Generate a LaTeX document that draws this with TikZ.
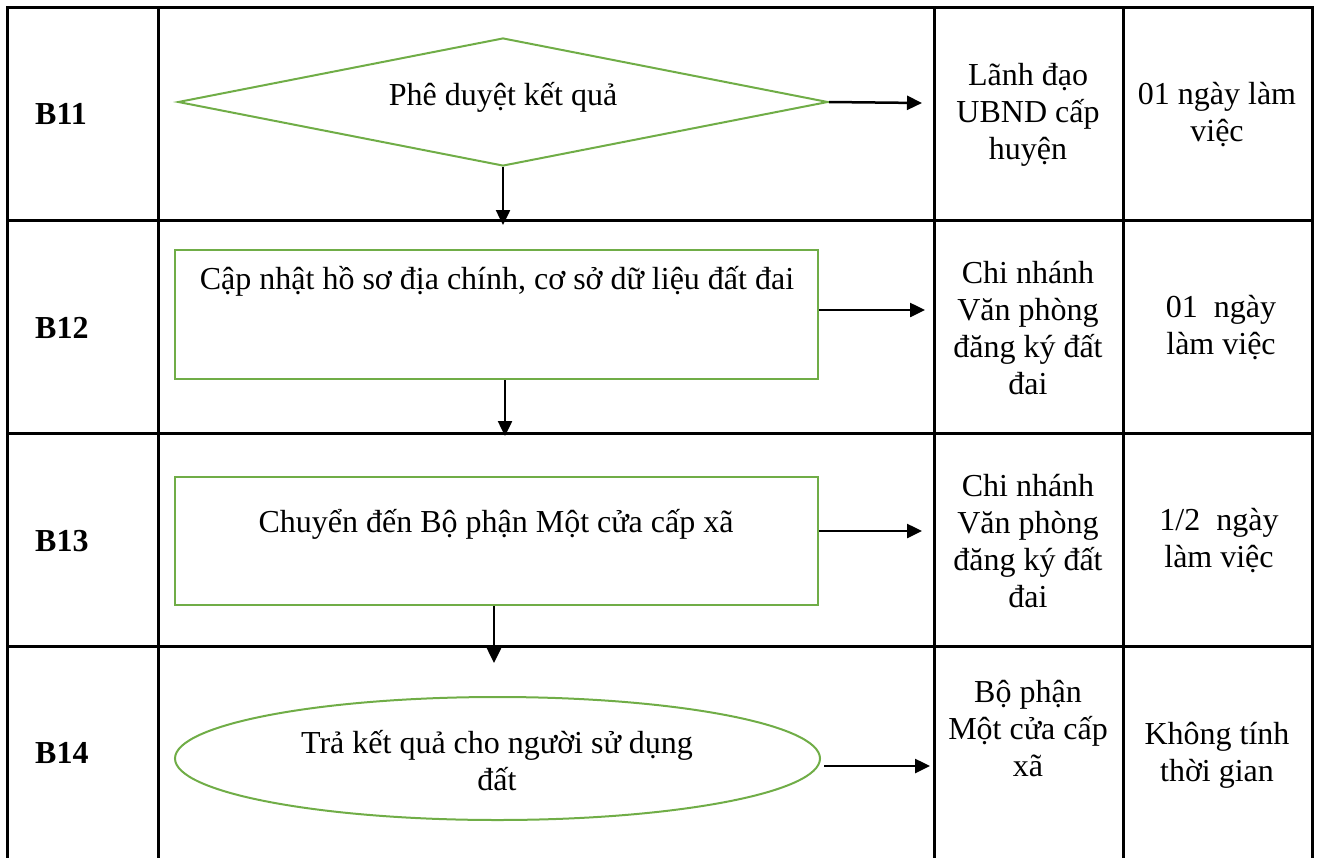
\documentclass[tikz,border=0pt]{standalone}
\usepackage{fontspec}
\setmainfont{Liberation Serif}
\usetikzlibrary{shapes.geometric,arrows.meta}
\definecolor{flowgreen}{RGB}{112,173,71}
\begin{document}
\begin{tikzpicture}[x=1pt,y=-1pt,
  grid/.style={line width=3pt},
  shapebox/.style={draw=flowgreen,line width=2pt,inner sep=0pt},
  conn/.style={line width=2.5pt,-{Triangle[length=15pt,width=14pt]}},
  txt/.style={font=\fontsize{32}{37}\selectfont,align=center,inner sep=0pt},
  lbl/.style={font=\fontsize{32}{37}\selectfont\bfseries,inner sep=0pt,anchor=west}]
\useasboundingbox (0,0) rectangle (1317,857);
% table grid
\draw[grid] (7,858) -- (7,7) -- (1312,7) -- (1312,858);
\foreach \x in {158,934,1123} \draw[grid] (\x,7) -- (\x,858);
\foreach \y in {220,433,646} \draw[grid] (7,\y) -- (1312,\y);
% step labels
\node[lbl] (b11) at (35,114) {B11};
\node[lbl] (b12) at (35,328) {B12};
\node[lbl] (b13) at (35,541) {B13};
\node[lbl] (b14) at (35,753) {B14};
% responsible units
\node[txt] (u11) at (1028,115) {Lãnh đạo\\UBND cấp\\huyện};
\node[txt] (u12) at (1028,328) {Chi nhánh\\Văn phòng\\đăng ký đất\\đai};
\node[txt] (u13) at (1028,541) {Chi nhánh\\Văn phòng\\đăng ký đất\\đai};
\node[txt] (u14) at (1028,729) {Bộ phận\\Một cửa cấp\\xã};
% times
\node[txt] (t11) at (1217,115) {01 ngày làm\\việc};
\node[txt] (t12) at (1221,328) {01\ \ ngày\\làm việc};
\node[txt] (t13) at (1219,541) {1/2\ \ ngày\\làm việc};
\node[txt] (t14) at (1217,755) {Không tính\\thời gian};
% shapes
\node[shapebox,diamond,minimum width=650pt,minimum height=128pt] (d11) at (503,102) {};
\node[txt] (x11) at (503,97) {Phê duyệt kết quả};
\node[shapebox,rectangle,minimum width=643pt,minimum height=129pt] (r12) at (496.5,314.5) {};
\node[txt] (x12) at (497,281) {Cập nhật hồ sơ địa chính, cơ sở dữ liệu đất đai};
\node[shapebox,rectangle,minimum width=643pt,minimum height=128pt] (r13) at (496.5,541) {};
\node[txt] (x13) at (496,524) {Chuyển đến Bộ phận Một cửa cấp xã};
\node[shapebox,ellipse,minimum width=645pt,minimum height=123pt] (e14) at (497.5,758.5) {};
\node[txt] (x14) at (497,761) {Trả kết quả cho người sử dụng\\đất};
% connector ends
\coordinate (h11) at (922,103);
\coordinate (v11) at (503,225);
\coordinate (h12) at (925,310);
\coordinate (v12) at (505,436);
\coordinate (h13) at (922,531);
\coordinate (v13) at (494,663);
\coordinate (h14) at (930,766);
% connectors
\draw[conn] (d11.east) -- (h11);
\draw[conn] (d11.south) -- (v11);
\draw[conn] (r12.east |- h12) -- (h12);
\draw[conn] (r12.south -| v12) -- (v12);
\draw[conn] (r13.east |- h13) -- (h13);
\draw[conn] (r13.south -| v13) -- (v13);
\draw[conn] ([xshift=3pt]e14.east |- h14) -- (h14);
\end{tikzpicture}
\end{document}
